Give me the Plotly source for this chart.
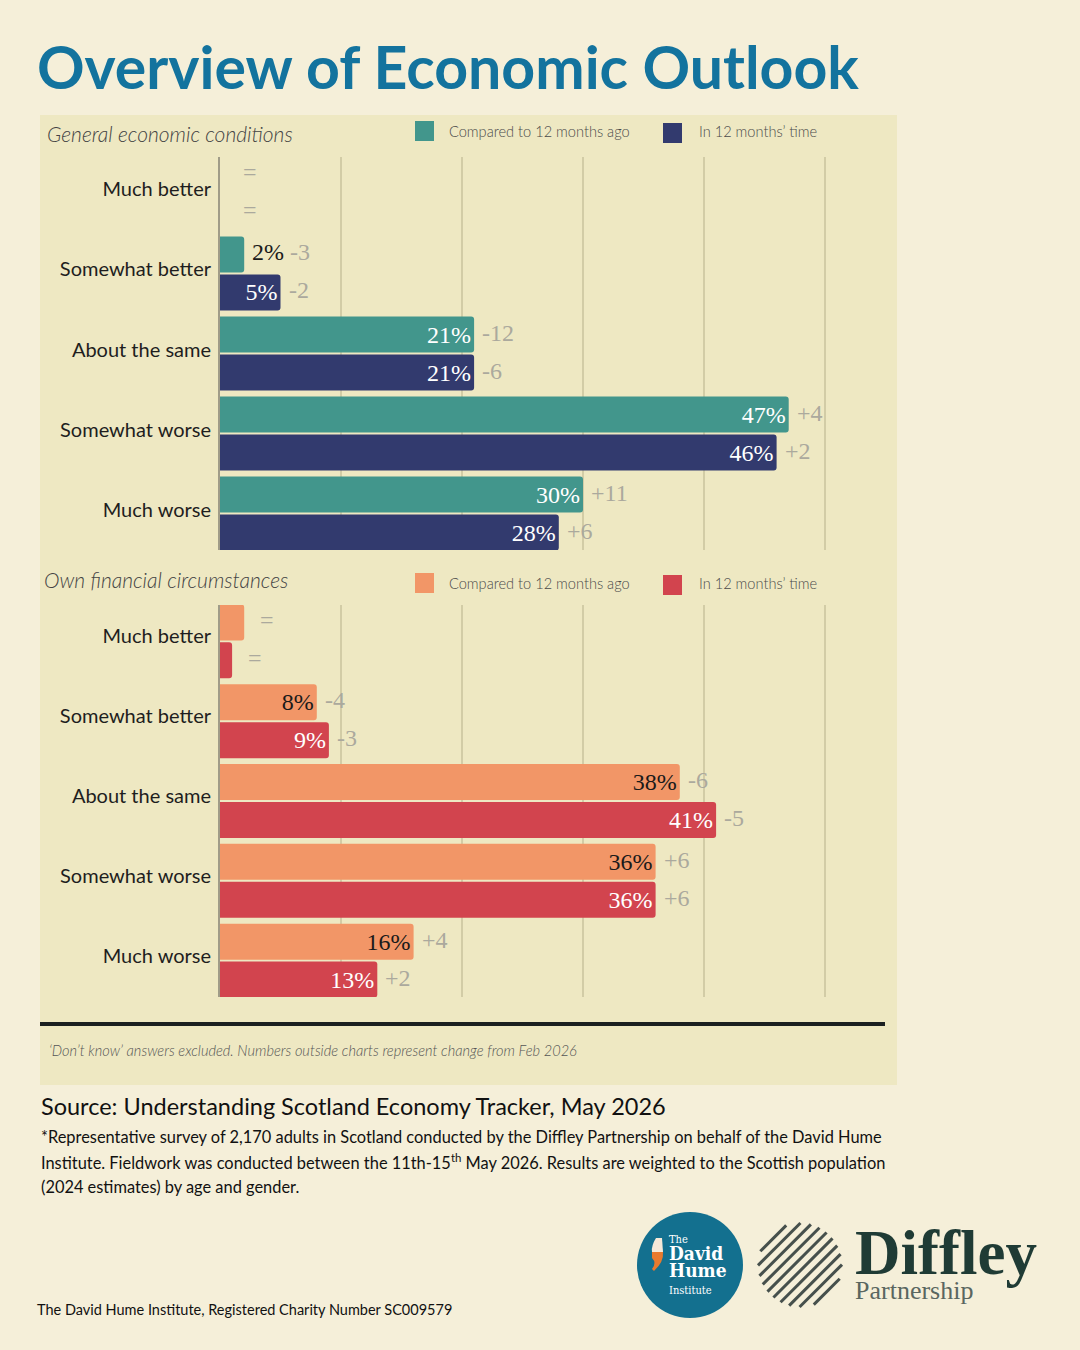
import math
import plotly.graph_objects as go

W, H = 1080, 1350

# ---------------- data ----------------
categories = ["Much better", "Somewhat better", "About the same", "Somewhat worse", "Much worse"]

gen_compared = [0, 2, 21, 47, 30]
gen_future = [0, 5, 21, 46, 28]
gen_compared_labels = ["", "2%", "21%", "47%", "30%"]
gen_future_labels = ["", "5%", "21%", "46%", "28%"]
gen_compared_change = ["=", "-3", "-12", "+4", "+11"]
gen_future_change = ["=", "-2", "-6", "+2", "+6"]

own_compared = [2, 8, 38, 36, 16]
own_future = [1, 9, 41, 36, 13]
own_compared_labels = ["", "8%", "38%", "36%", "16%"]
own_future_labels = ["", "9%", "41%", "36%", "13%"]
own_compared_change = ["=", "-4", "-6", "+6", "+4"]
own_future_change = ["=", "-3", "-5", "+6", "+2"]

series_names = ["Compared to 12 months ago", "In 12 months\u2019 time"]

# ---------------- styles ----------------
OUTER_BG = "#F5EFD9"
PANEL_BG = "#EEE8C2"
TEAL = "#42968C"
NAVY = "#323A6E"
ORANGE = "#F29667"
RED = "#D2444E"
GRID = "#D2CCA6"
CHANGE_GREY = "#ABA99D"
SERIF = "Liberation Serif"
SANS = "Lato"


def X(px):
    return px / W


def Y(px):
    return 1 - px / H


fig = go.Figure()

panels = [
    dict(xa="x", ya="y", vals=(gen_compared, gen_future), labels=(gen_compared_labels, gen_future_labels),
         changes=(gen_compared_change, gen_future_change), colors=(TEAL, NAVY),
         txtcolors=("white", "white")),
    dict(xa="x2", ya="y2", vals=(own_compared, own_future), labels=(own_compared_labels, own_future_labels),
         changes=(own_compared_change, own_future_change), colors=(ORANGE, RED),
         txtcolors=("#1a1a1a", "white")),
]

annotations = []

for p in panels:
    for si in range(2):
        vals = p["vals"][si]
        labs = p["labels"][si]
        inside_text = [l if v >= 4 else " " for v, l in zip(vals, labs)]
        fig.add_trace(go.Bar(
            y=categories, x=vals, orientation="h",
            name=series_names[si],
            xaxis=p["xa"], yaxis=p["ya"],
            marker=dict(color=p["colors"][si], cornerradius=3, line=dict(width=0)),
            text=inside_text, textposition="inside", insidetextanchor="end",
            textangle=0,
            insidetextfont=dict(family=SERIF, size=24, color=p["txtcolors"][si]),
            showlegend=False, hoverinfo="skip",
        ))
        yshift = 21 if si == 0 else -17
        for cat, v, l, ch in zip(categories, vals, labs, p["changes"][si]):
            if l and v < 4:
                txt = f"<span style='color:#1a1a1a'>{l}</span> {ch}"
            else:
                txt = ch
            extra = (8 if ch == "=" else 0) + (7 if v == 0 else 0)
            annotations.append(dict(
                x=v, y=cat, xref=p["xa"], yref=p["ya"], text=txt, showarrow=False,
                xanchor="left", yanchor="middle", xshift=6 + extra, yshift=yshift,
                font=dict(family=SERIF, size=24, color=CHANGE_GREY),
            ))

xrange = [0, (880 - 220) / 12.1]
axis_x = dict(range=xrange, domain=[X(220), X(880)], showgrid=True, gridcolor=GRID, gridwidth=2,
              dtick=10, tick0=0, showticklabels=False, zeroline=False, showline=False, fixedrange=True)
axis_y_common = dict(type="category", categoryorder="array", categoryarray=categories,
                     range=[4.456, -0.456], showgrid=False, zeroline=False, fixedrange=True,
                     showline=True, linecolor="#A09C88", linewidth=2,
                     ticks="outside", ticklen=3, tickcolor="rgba(0,0,0,0)",
                     tickfont=dict(family=SANS, size=20, color="#1E1E1E"))

fig.update_layout(
    width=W, height=H,
    margin=dict(l=0, r=0, t=0, b=0),
    paper_bgcolor=OUTER_BG, plot_bgcolor="rgba(0,0,0,0)",
    barmode="group", bargap=0.05, bargroupgap=0.05,
    xaxis=dict(axis_x, anchor="y"),
    yaxis=dict(axis_y_common, domain=[Y(550), Y(157)], anchor="x", ticklabelshift=4),
    xaxis2=dict(axis_x, anchor="y2"),
    yaxis2=dict(axis_y_common, domain=[Y(997), Y(605)], anchor="x2", ticklabelshift=5),
)

shapes = []
# panel background
shapes.append(dict(type="rect", xref="paper", yref="paper", x0=X(40), x1=X(897), y0=Y(1085), y1=Y(115),
                   fillcolor=PANEL_BG, line=dict(width=0), layer="below"))
# black rule
shapes.append(dict(type="line", xref="paper", yref="paper", x0=X(40), x1=X(885), y0=Y(1024), y1=Y(1024),
                   line=dict(color="#1B2020", width=4)))

# legends (manual)
for top, cols in [(121, (TEAL, NAVY)), (573, (ORANGE, RED))]:
    shapes.append(dict(type="rect", xref="paper", yref="paper", x0=X(415), x1=X(434), y0=Y(top + 20), y1=Y(top),
                       fillcolor=cols[0], line=dict(width=0)))
    shapes.append(dict(type="rect", xref="paper", yref="paper", x0=X(663), x1=X(682), y0=Y(top + 22), y1=Y(top + 2),
                       fillcolor=cols[1], line=dict(width=0)))
    annotations.append(dict(x=X(447), y=Y(top + 10), xref="paper", yref="paper", text=series_names[0],
                            showarrow=False, xanchor="left", yanchor="middle",
                            font=dict(family=SANS, size=14.6, color="#4A4A4A", weight=300)))
    annotations.append(dict(x=X(697), y=Y(top + 10), xref="paper", yref="paper", text=series_names[1],
                            showarrow=False, xanchor="left", yanchor="middle",
                            font=dict(family=SANS, size=14.6, color="#4A4A4A", weight=300)))

# subtitles
annotations.append(dict(x=X(45), y=Y(133), xref="paper", yref="paper", text="General economic conditions",
                        showarrow=False, xanchor="left", yanchor="middle",
                        font=dict(family=SANS, size=21, color="#444444", style="italic", weight=300)))
annotations.append(dict(x=X(42), y=Y(580), xref="paper", yref="paper", text="Own financial circumstances",
                        showarrow=False, xanchor="left", yanchor="middle",
                        font=dict(family=SANS, size=21, color="#444444", style="italic", weight=300)))

# title
annotations.append(dict(x=X(35), y=Y(67), xref="paper", yref="paper", text="<b>Overview of Economic Outlook</b>",
                        showarrow=False, xanchor="left", yanchor="middle",
                        font=dict(family=SANS, size=59, color="#13739E")))

# notes
annotations.append(dict(x=X(47), y=Y(1050), xref="paper", yref="paper",
                        text="\u2018Don\u2019t know\u2019 answers excluded. Numbers outside charts represent change from Feb 2026",
                        showarrow=False, xanchor="left", yanchor="middle",
                        font=dict(family=SANS, size=14.6, color="#555555", style="italic", weight=300)))
annotations.append(dict(x=X(39), y=Y(1106), xref="paper", yref="paper",
                        text="Source: Understanding Scotland Economy Tracker, May 2026",
                        showarrow=False, xanchor="left", yanchor="middle",
                        font=dict(family=SANS, size=23.5, color="#111111")))
foot_lines = [
    "*Representative survey of 2,170 adults in Scotland conducted by the Diffley Partnership on behalf of the David Hume",
    "Institute. Fieldwork was conducted between the 11th-15<sup>th</sup> May 2026. Results are weighted to the Scottish population",
    "(2024 estimates) by age and gender.",
]
for i, line in enumerate(foot_lines):
    annotations.append(dict(x=X(39), y=Y(1136 + 25 * i), xref="paper", yref="paper", text=line,
                            showarrow=False, xanchor="left", yanchor="middle",
                            font=dict(family=SANS, size=16.4, color="#111111")))
annotations.append(dict(x=X(35), y=Y(1309), xref="paper", yref="paper",
                        text="The David Hume Institute, Registered Charity Number SC009579",
                        showarrow=False, xanchor="left", yanchor="middle",
                        font=dict(family=SANS, size=14.5, color="#111111")))

# ---- David Hume Institute logo ----
cx, cy, r = 690, 1265, 53
shapes.append(dict(type="circle", xref="paper", yref="paper", x0=X(cx - r), x1=X(cx + r), y0=Y(cy + r), y1=Y(cy - r),
                   fillcolor="#13708F", line=dict(width=0)))


def P(px, py):
    return f"{X(px):.5f},{Y(py):.5f}"


comma_top = f"M {P(656,1238)} L {P(662,1238)} L {P(663,1252)} L {P(652,1252)} Q {P(651,1246)} {P(656,1238)} Z"
comma_bot = f"M {P(652,1252)} L {P(663,1252)} Q {P(664,1262)} {P(654,1271)} L {P(652,1269)} Q {P(657,1263)} {P(652,1258)} Z"
shapes.append(dict(type="path", xref="paper", yref="paper", path=comma_top, fillcolor="#F6E9D8", line=dict(width=0)))
shapes.append(dict(type="path", xref="paper", yref="paper", path=comma_bot, fillcolor="#E87A2E", line=dict(width=0)))
dhi_text = ("<span style='font-size:11px'>The</span><br>"
            "<b><span style='font-size:19px'>David</span></b><br>"
            "<b><span style='font-size:19px'>Hume</span></b><br>"
            "<span style='font-size:11px'>Institute</span>")
annotations.append(dict(x=X(667), y=Y(1265), xref="paper", yref="paper", text=dhi_text, showarrow=False,
                        xanchor="left", yanchor="middle", align="left",
                        font=dict(family="DejaVu Serif Condensed, DejaVu Serif", size=13, color="white")))

# ---- Diffley logo stripes ----
sx, sy, sr = 800, 1265, 42
n_lines = 10
for k in range(n_lines):
    t = -sr + (k + 0.5) * (2 * sr / n_lines)
    h = math.sqrt(max(sr * sr - t * t, 0))
    nx, ny = 1 / math.sqrt(2), 1 / math.sqrt(2)
    dx, dy = 1 / math.sqrt(2), -1 / math.sqrt(2)
    px0, py0 = sx + t * nx - h * dx, sy + t * ny - h * dy
    px1, py1 = sx + t * nx + h * dx, sy + t * ny + h * dy
    shapes.append(dict(type="line", xref="paper", yref="paper", x0=X(px0), y0=Y(py0), x1=X(px1), y1=Y(py1),
                       line=dict(color="#46504C", width=3)))
diffley_text = ("<b><span style='font-size:63px;color:#1F3B35'>Diffley</span></b><br>"
                "<span style='font-size:26px;color:#5A6660'>Partnership</span>")
annotations.append(dict(x=X(853), y=Y(1261), xref="paper", yref="paper", text=diffley_text, showarrow=False,
                        xanchor="left", yanchor="middle", align="left",
                        font=dict(family=SERIF, size=19.5, color="#1F3B35")))

fig.update_layout(shapes=shapes, annotations=annotations)

fig.write_html("out.html", config={"displayModeBar": False},
               post_script="document.body.style.margin='0px';document.body.style.overflow='hidden';")
